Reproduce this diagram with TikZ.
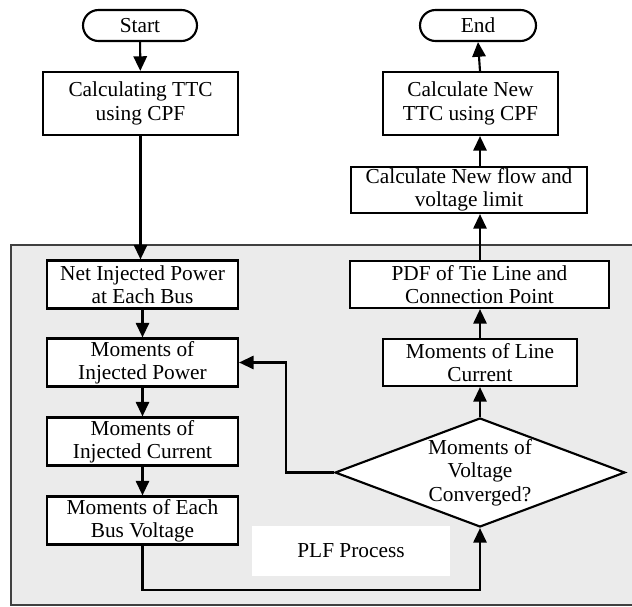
\documentclass[tikz,border=0pt]{standalone}
\usepackage{fontspec}
\setmainfont{Liberation Serif}
\usetikzlibrary{arrows.meta,shapes.geometric,shapes.misc}

\tikzset{every picture/.style={line width=0.75pt}}
\tikzset{
  procbox/.style={draw, line width=1.6pt, align=center, inner sep=0pt, font=\fontsize{16}{17.5}\selectfont},
  termbox/.style={procbox, rounded rectangle},
  decbox/.style={procbox, diamond, aspect=2.66},
  arr/.style={-{Triangle[length=11pt,width=10pt]}, line width=1.6pt}
}

\begin{document}
\begin{tikzpicture}[x=0.75pt,y=0.75pt,yscale=-1,xscale=1]
    \useasboundingbox (0,0) rectangle (632,607);
    \clip (0,0) rectangle (632,607);

    %PLF region
    \draw [fill=gray!16, draw=black!75, line width=1.8pt] (11,245) rectangle (650,605);
    \node [fill=white, minimum width=148.5pt, minimum height=37.5pt, inner sep=0pt, font=\fontsize{16}{17.5}\selectfont] (plf) at (351,551) {PLF Process};

    %Flowchart: Terminator
    \node [termbox, minimum width=85.5pt, minimum height=23.25pt] (start) at (140,25.5) {Start};
    %Flowchart: Process
    \node [procbox, minimum width=146.25pt, minimum height=47.25pt] (calc) at (140.5,103.5) {Calculating TTC\\using CPF};
    \node [procbox, fill=white, minimum width=143.25pt, minimum height=36pt] (net) at (142.5,284.5) {Net Injected Power\\at Each Bus};
    \node [procbox, fill=white, minimum width=143.25pt, minimum height=36pt] (mip) at (142.5,362.5) {Moments of\\Injected Power};
    \node [procbox, fill=white, minimum width=143.25pt, minimum height=36pt] (mic) at (142.5,441.5) {Moments of\\Injected Current};
    \node [procbox, fill=white, minimum width=143.25pt, minimum height=36pt] (mbv) at (142.5,520.5) {Moments of Each\\Bus Voltage};
    %Flowchart: Decision
    \node [decbox, fill=white, minimum width=217.5pt, minimum height=81.75pt] (conv) at (480,472.5) {Moments of\\Voltage\\Converged?};
    \node [procbox, fill=white, minimum width=145.5pt, minimum height=35.25pt] (mlc) at (480,362.5) {Moments of Line\\Current};
    \node [procbox, fill=white, minimum width=194.25pt, minimum height=35.25pt] (pdf) at (479.5,284.5) {PDF of Tie Line and\\Connection Point};
    \node [procbox, minimum width=177pt, minimum height=34.5pt] (flow) at (469,190) {Calculate New flow and\\voltage limit};
    \node [procbox, minimum width=131.25pt, minimum height=47.25pt] (nttc) at (470.5,103.5) {Calculate New\\TTC using CPF};
    %Flowchart: Terminator
    \node [termbox, minimum width=87pt, minimum height=23.25pt] (end) at (478,25.5) {End};

    %Straight Lines
    \coordinate (loopb) at (480,590);
    \coordinate (fbk) at (286,362.5);
    \draw [arr] (start) -- (calc);
    \draw [arr] (calc.south) -- (calc.south |- net.north);
    \draw [arr] (net) -- (mip);
    \draw [arr] (mip) -- (mic);
    \draw [arr] (mic) -- (mbv);
    \draw [arr] (mbv.south) |- (loopb) -- (conv.south);
    \draw [arr] (conv.west) -| (fbk) -- (mip.east);
    \draw [arr] (conv) -- (mlc);
    \draw [arr] (mlc) -- (mlc |- pdf.south);
    \draw [arr] (pdf.north -| mlc) -- (mlc |- flow.south);
    \draw [arr] (flow.north -| mlc) -- (mlc |- nttc.south);
    \draw [arr] (nttc.north -| mlc) -- (end.south);

\end{tikzpicture}
\end{document}
